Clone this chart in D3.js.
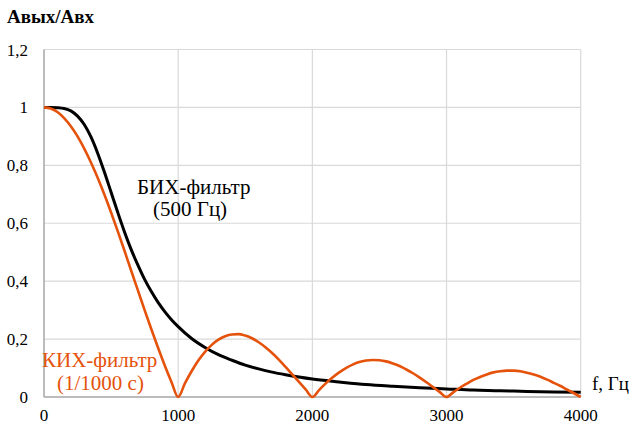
<!DOCTYPE html>
<html><head><meta charset="utf-8"><script src="https://cdn.jsdelivr.net/npm/d3@7"></script></head>
<body style="margin:0">
<svg id="s" width="633" height="426"></svg>
<script>
// IIR (Butterworth, 500 Hz) response
const iirFreq = [0, 50, 100, 150, 200, 250, 300, 350, 400, 450, 500, 550, 600, 650, 700, 750, 800, 850, 900, 950,
  1000, 1100, 1200, 1300, 1400, 1500, 1600, 1700, 1800, 1900, 2000,
  2200, 2400, 2600, 2800, 3000, 3200, 3400, 3600, 3800, 4000];
const iirGain = [1, 1.000, 0.999, 0.996, 0.988, 0.970, 0.941, 0.898, 0.842, 0.777, 0.707, 0.637, 0.570, 0.509, 0.455, 0.406, 0.364, 0.327, 0.295, 0.267,
  0.243, 0.202, 0.171, 0.146, 0.127, 0.110, 0.097, 0.086, 0.077, 0.069, 0.062,
  0.052, 0.043, 0.037, 0.032, 0.028, 0.024, 0.022, 0.019, 0.017, 0.016];

// FIR (1/1000 s averaging) response
const firFreq = [0, 50, 100, 150, 200, 250, 300, 350, 400, 450, 500, 550, 600, 650, 700, 750, 800, 850, 900, 950,
  1000, 1050, 1100, 1150, 1200, 1250, 1300, 1350, 1400, 1450, 1500, 1550, 1600, 1650, 1700, 1750, 1800, 1850, 1900, 1950,
  2000, 2050, 2100, 2150, 2200, 2250, 2300, 2350, 2400, 2450, 2500, 2550, 2600, 2650, 2700, 2750, 2800, 2850, 2900, 2950,
  3000, 3050, 3100, 3150, 3200, 3250, 3300, 3350, 3400, 3450, 3500, 3550, 3600, 3650, 3700, 3750, 3800, 3850, 3900, 3950, 4000];
const firGain = [1, 0.996, 0.984, 0.963, 0.935, 0.900, 0.858, 0.810, 0.757, 0.699, 0.637, 0.572, 0.505, 0.436, 0.368, 0.300, 0.234, 0.170, 0.109, 0.052,
  0, 0.047, 0.089, 0.126, 0.156, 0.180, 0.198, 0.210, 0.216, 0.217, 0.212, 0.203, 0.189, 0.172, 0.152, 0.129, 0.104, 0.078, 0.052, 0.026,
  0, 0.024, 0.047, 0.067, 0.085, 0.100, 0.112, 0.121, 0.126, 0.128, 0.127, 0.123, 0.116, 0.107, 0.095, 0.082, 0.067, 0.051, 0.034, 0.017,
  0, 0.016, 0.032, 0.046, 0.059, 0.069, 0.078, 0.085, 0.089, 0.091, 0.091, 0.089, 0.084, 0.078, 0.070, 0.060, 0.049, 0.038, 0.025, 0.013, 0];

const xTicks = [0, 1000, 2000, 3000, 4000];
const xTickLabels = ["0", "1000", "2000", "3000", "4000"];
const yTicks = [0, 0.2, 0.4, 0.6, 0.8, 1, 1.2];
const yTickLabels = ["0", "0,2", "0,4", "0,6", "0,8", "1", "1,2"];

const serif = () => "'Liberation Serif'";
const svg = d3.select("#s");
const plotLeft = 44, plotRight = 580.7, plotTop = 49.5, plotBottom = 397;

const x = d3.scaleLinear().domain([0, 4000]).range([plotLeft, plotRight]);
const y = d3.scaleLinear().domain([0, 1.2]).range([plotBottom, plotTop]);

// grid
const grid = svg.append("g").attr("stroke", "#d9d9d9").attr("stroke-width", 1.2);
grid.selectAll("line.h").data(yTicks.filter(v => v > 0)).join("line").attr("class", "h")
  .attr("x1", plotLeft).attr("x2", plotRight).attr("y1", d => y(d)).attr("y2", d => y(d));
grid.selectAll("line.v").data(xTicks.filter(v => v > 0)).join("line").attr("class", "v")
  .attr("x1", d => x(d)).attr("x2", d => x(d)).attr("y1", plotTop).attr("y2", plotBottom);

// axis lines
svg.append("line").attr("x1", plotLeft).attr("x2", plotLeft).attr("y1", plotTop).attr("y2", plotBottom)
  .attr("stroke", "#a6a6a6").attr("stroke-width", 1.5);
svg.append("line").attr("x1", plotLeft).attr("x2", plotRight).attr("y1", plotBottom).attr("y2", plotBottom)
  .attr("stroke", "#a6a6a6").attr("stroke-width", 1.5);

// curves
const line = d3.line().x(d => x(d[0])).y(d => y(d[1])).curve(d3.curveMonotoneX);
svg.append("path").datum(iirFreq.map((f, i) => [f, iirGain[i]]))
  .attr("d", line).attr("fill", "none").attr("stroke", "#000").attr("stroke-width", 3);
svg.append("path").datum(firFreq.map((f, i) => [f, firGain[i]]))
  .attr("d", line).attr("fill", "none").attr("stroke", "#e5520b").attr("stroke-width", 2.6)
  .attr("stroke-linejoin", "round");

// all texts: tick labels, axis titles and series labels
const texts = [];
yTicks.forEach((v, i) => texts.push({ t: yTickLabels[i], x: 28, y: y(v) + 6, s: 17, a: "end", c: "#000", w: "normal" }));
xTicks.forEach((v, i) => texts.push({ t: xTickLabels[i], x: x(v), y: 421, s: 17, a: "middle", c: "#000", w: "normal" }));
texts.push({ t: "Авых/Авх", x: 7, y: 23, s: 19, a: "start", c: "#000", w: "bold" });
texts.push({ t: "f, Гц", x: 592, y: 390, s: 19, a: "start", c: "#000", w: "normal" });
texts.push({ t: "БИХ-фильтр", x: 137, y: 194, s: 21, a: "start", c: "#000", w: "normal" });
texts.push({ t: "(500 Гц)", x: 153, y: 216, s: 21, a: "start", c: "#000", w: "normal" });
texts.push({ t: "КИХ-фильтр", x: 42, y: 367, s: 21, a: "start", c: "#e5520b", w: "normal" });
texts.push({ t: "(1/1000 с)", x: 57, y: 390, s: 21, a: "start", c: "#e5520b", w: "normal" });

svg.selectAll("text").data(texts).join("text")
  .attr("x", d => d.x).attr("y", d => d.y).attr("font-size", d => d.s)
  .attr("text-anchor", d => d.a).attr("fill", d => d.c).attr("font-weight", d => d.w)
  .style("font-family", serif)
  .text(d => d.t);
</script></body></html>
